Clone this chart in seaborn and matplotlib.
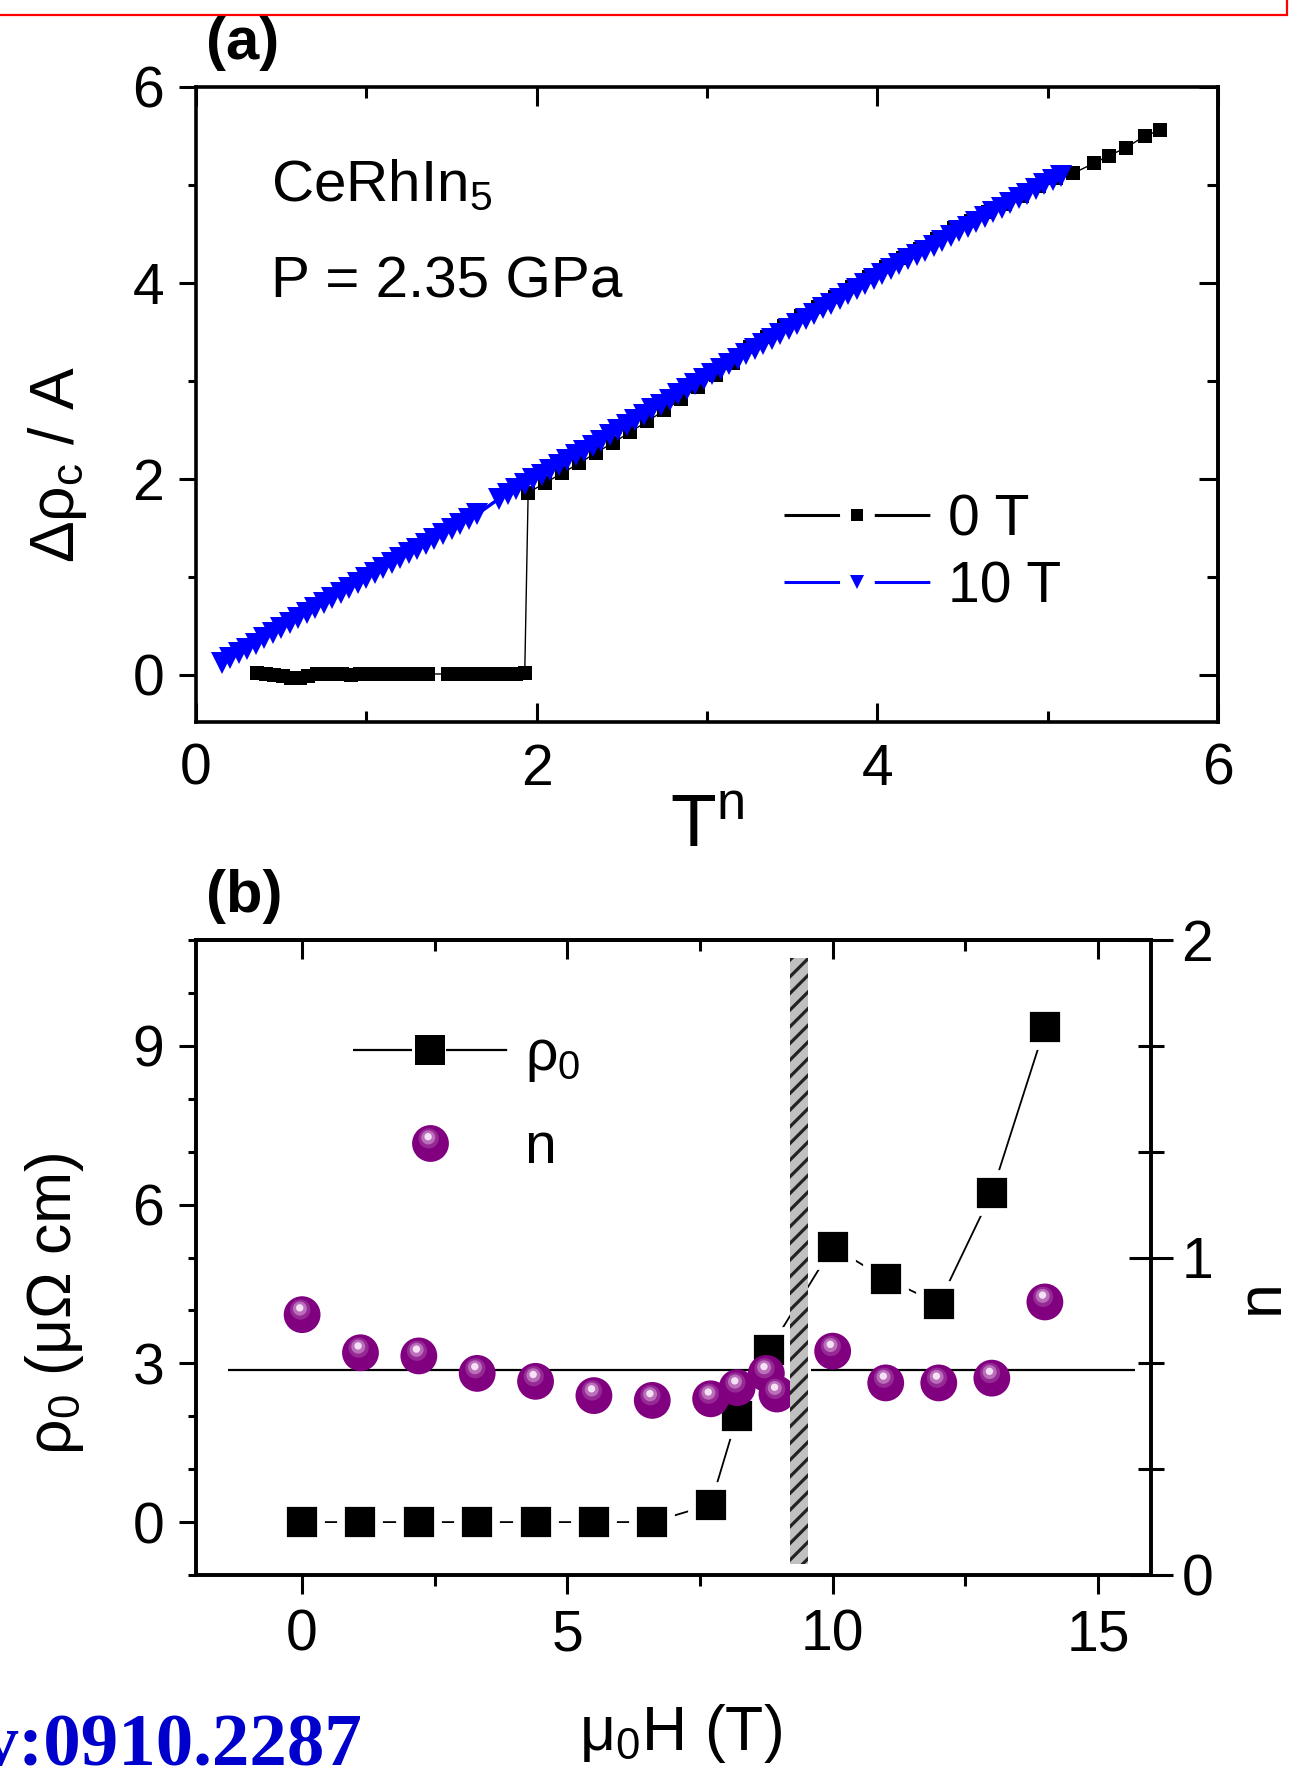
import numpy as np
import matplotlib
matplotlib.use("Agg")
import matplotlib.pyplot as plt
import seaborn as sns
from matplotlib.lines import Line2D
from matplotlib.path import Path
from matplotlib.markers import MarkerStyle
from matplotlib.patches import Rectangle
from matplotlib.ticker import MultipleLocator

# ---------------- panel (a): resistivity vs T^n ----------------
# 0 T: superconducting plateau, then normal-state branch
tn_0T_low = [0.36, 0.41, 0.46, 0.51, 0.56, 0.61, 0.66, 0.71, 0.76, 0.81, 0.86,
             0.91, 0.96, 1.01, 1.06, 1.11, 1.16, 1.21, 1.26, 1.31, 1.36,
             1.48, 1.53, 1.58, 1.63, 1.68, 1.73, 1.78, 1.83, 1.88, 1.93]
drho_0T_low = [0.02, 0.01, 0.00, -0.01, -0.03, -0.03, -0.01, 0.01, 0.01, 0.01, 0.01,
               0.00, 0.01, 0.01, 0.01, 0.01, 0.01, 0.01, 0.01, 0.01, 0.01,
               0.01, 0.01, 0.01, 0.01, 0.01, 0.01, 0.01, 0.01, 0.01, 0.02]
tn_0T_high = [1.95, 2.05, 2.15, 2.25, 2.35, 2.45, 2.55, 2.65, 2.75, 2.85,
              2.95, 3.05, 3.15, 3.25, 3.35, 3.45, 3.55, 3.65, 3.75, 3.85,
              3.95, 4.05, 4.15, 4.25, 4.35, 4.45, 4.55, 4.65, 4.75, 4.85,
              4.95, 5.05, 5.15, 5.27, 5.36, 5.46, 5.57, 5.66]
drho_0T_high = [1.86, 1.96, 2.06, 2.16, 2.27, 2.37, 2.48, 2.59, 2.70, 2.82,
                2.94, 3.06, 3.18, 3.35, 3.45, 3.56, 3.66, 3.76, 3.86, 3.96,
                4.06, 4.16, 4.26, 4.35, 4.45, 4.56, 4.63, 4.72, 4.81, 4.89,
                4.99, 5.07, 5.12, 5.22, 5.30, 5.38, 5.50, 5.56]

# 10 T
tn_10T = [0.15, 0.20, 0.25, 0.30, 0.35, 0.40, 0.45, 0.50, 0.55, 0.60,
          0.65, 0.70, 0.75, 0.80, 0.85, 0.90, 0.95, 1.00, 1.05, 1.10,
          1.15, 1.20, 1.25, 1.30, 1.35, 1.40, 1.45, 1.50, 1.55, 1.60,
          1.65,
          1.78, 1.83, 1.88, 1.93, 1.98, 2.03, 2.08, 2.13, 2.18, 2.23,
          2.28, 2.33, 2.38, 2.43, 2.48, 2.53, 2.58, 2.63, 2.68, 2.73,
          2.78, 2.83, 2.88, 2.93, 2.98, 3.03, 3.08, 3.13, 3.18, 3.23,
          3.28, 3.33, 3.38, 3.43, 3.48, 3.53, 3.58, 3.63, 3.68, 3.73,
          3.78, 3.83, 3.88, 3.93, 3.98, 4.03, 4.08, 4.13, 4.18, 4.23,
          4.28, 4.33, 4.38, 4.43, 4.48, 4.53, 4.58, 4.63, 4.68, 4.73,
          4.78, 4.83, 4.88, 4.93, 4.98, 5.03, 5.08]
drho_10T = [0.12, 0.17, 0.22, 0.27, 0.32, 0.375, 0.43, 0.48, 0.53, 0.58,
            0.63, 0.68, 0.73, 0.785, 0.84, 0.89, 0.94, 0.99, 1.04, 1.09,
            1.14, 1.19, 1.24, 1.29, 1.34, 1.39, 1.44, 1.49, 1.54, 1.59,
            1.64,
            1.80, 1.85, 1.90, 1.95, 2.00, 2.045, 2.09, 2.14, 2.19, 2.24,
            2.29, 2.34, 2.39, 2.445, 2.50, 2.55, 2.60, 2.655, 2.71, 2.76,
            2.81, 2.865, 2.92, 2.97, 3.02, 3.07, 3.12, 3.17, 3.22, 3.275,
            3.33, 3.38, 3.43, 3.48, 3.53, 3.58, 3.63, 3.685, 3.74, 3.79,
            3.84, 3.89, 3.94, 3.99, 4.04, 4.09, 4.14, 4.19, 4.24, 4.285,
            4.33, 4.38, 4.43, 4.48, 4.53, 4.575, 4.62, 4.67, 4.72, 4.77,
            4.82, 4.865, 4.91, 4.96, 5.01, 5.05, 5.09]

# ---------------- panel (b): rho_0 and n vs field ----------------
field_rho = [0, 1.1, 2.2, 3.3, 4.4, 5.5, 6.6, 7.7, 8.2, 8.8, 10, 11, 12, 13, 14]
rho0 = [0, 0, 0, 0, 0, 0, 0, 0.33, 2.0, 3.25, 5.2, 4.6, 4.13, 6.22, 9.35]

field_n = [0, 1.1, 2.2, 3.3, 4.4, 5.5, 6.6, 7.7, 8.2, 8.75, 8.95, 10, 11, 12, 13, 14]
n_exp = [0.82, 0.70, 0.69, 0.635, 0.61, 0.565, 0.55, 0.555, 0.59, 0.635, 0.57,
         0.705, 0.605, 0.605, 0.62, 0.86]

n_guide = 0.645
guide_from = [-1.4, 9.6]
guide_to = [8.9, 15.7]
hc_band = (9.19, 9.53)

# ---------------- style ----------------
sns.set_theme(style="ticks")
plt.rcParams.update({
    "font.family": ["Liberation Sans", "DejaVu Sans"],
    "mathtext.fontset": "custom",
    "mathtext.rm": "Liberation Sans",
    "mathtext.it": "Liberation Sans:italic",
    "mathtext.bf": "Liberation Sans:bold",
    "axes.linewidth": 2.6,
    "axes.edgecolor": "black",
    "axes.labelcolor": "black",
    "text.color": "black",
    "xtick.color": "black",
    "ytick.color": "black",
    "hatch.linewidth": 2.3,
    "hatch.color": "#222222",
})

TICK_FS = 41
LABEL_FS = 45
W, H = 1304, 1768

fig = plt.figure(figsize=(W / 100, H / 100), dpi=100)
fig.patch.set_facecolor("white")


def fig_xy(x, y):
    return x / W, 1 - y / H


def tick_setup(ax, axis, direction, major=14, minor=8):
    ax.tick_params(axis=axis, which="major", direction=direction, length=major,
                   width=2.2, labelsize=TICK_FS)
    ax.tick_params(axis=axis, which="minor", direction=direction, length=minor,
                   width=2.2)


# ================= panel (a) =================
axA = fig.add_axes([196 / W, 1 - 722 / H, 1022 / W, 635 / H])

tn_0T = tn_0T_low + tn_0T_high
drho_0T = drho_0T_low + drho_0T_high

sns.lineplot(x=tn_0T, y=drho_0T, ax=axA, sort=False, estimator=None,
             color="black", lw=1.0, marker="s", markersize=10.5,
             markeredgewidth=0, legend=False, zorder=2)
sns.lineplot(x=tn_10T, y=drho_10T, ax=axA, sort=False, estimator=None,
             color="#0000ff", lw=2.5, marker="v", markersize=16,
             markeredgewidth=0, legend=False, zorder=3)

axA.set_xlim(0, 6)
axA.set_ylim(-0.48, 6)
for axis in (axA.xaxis, axA.yaxis):
    axis.set_major_locator(MultipleLocator(2))
    axis.set_minor_locator(MultipleLocator(1))
tick_setup(axA, "x", "in")
axA.tick_params(axis="x", which="both", top=True, bottom=True, pad=15)
tick_setup(axA, "y", "out", major=12, minor=6)
axA.tick_params(axis="y", which="both", left=True, right=False, pad=11)

secA = axA.secondary_yaxis("right")
secA.yaxis.set_major_locator(MultipleLocator(2))
secA.yaxis.set_minor_locator(MultipleLocator(1))
tick_setup(secA, "y", "in")
secA.tick_params(axis="y", which="both", labelright=False)
secA.spines["right"].set_linewidth(2.6)

axA.set_xlabel("T$^{\\mathrm{n}}$", fontsize=54)
axA.xaxis.set_label_coords(0.5, -0.112)
axA.set_ylabel("Δρ$_{\\mathrm{c}}$ / A", fontsize=LABEL_FS)
axA.yaxis.set_label_coords(-0.105, 0.406)

axA.text(*fig_xy(271, 201), "CeRhIn$_5$", transform=fig.transFigure,
         fontsize=42, va="baseline", ha="left")
axA.text(*fig_xy(271, 297), "P = 2.35 GPa", transform=fig.transFigure,
         fontsize=42, va="baseline", ha="left")

lw_leg = 2.2
hA0 = Line2D([], [], color="black", lw=lw_leg,
             ls=(0, (40 / lw_leg, 25 / lw_leg, 40 / lw_leg, 200)),
             marker="s", markersize=8.5, markeredgewidth=0)
hA1 = Line2D([], [], color="#0000ff", lw=lw_leg,
             ls=(0, (40 / lw_leg, 25 / lw_leg, 40 / lw_leg, 200)),
             marker="v", markersize=10, markeredgewidth=0)
axA.legend([hA0, hA1], ["0 T", "10 T"], loc="center left",
           bbox_to_anchor=(0.575, 0.265), frameon=False, fontsize=TICK_FS,
           handlelength=2.59, handletextpad=0.3, labelspacing=0.23,
           borderpad=0, borderaxespad=0, numpoints=1)

# ================= panel (b) =================
axB = fig.add_axes([196 / W, 1 - 1575 / H, 955 / W, 635 / H])
axN = axB.twinx()

sns.lineplot(x=field_rho, y=rho0, ax=axB, sort=False, estimator=None,
             color="black", lw=1.3, marker="s", markersize=28,
             markerfacecolor="black", markeredgecolor="white",
             markeredgewidth=5.6, legend=False, zorder=3)


def sphere_part(cx, cy, r):
    circ = Path.unit_circle()
    verts = np.vstack([[[-1.0, -1.0], [1.0, 1.0]], circ.vertices * r + [cx, cy]])
    codes = [Path.MOVETO, Path.MOVETO] + list(circ.codes)
    return MarkerStyle(Path(verts, codes))


SPH = 26.5
sphere_layers = [
    ("o", "#800080"),
    (sphere_part(-0.10, 0.28, 0.55), "#952a95"),
    (sphere_part(-0.12, 0.33, 0.38), "#bb6fbb"),
    (sphere_part(-0.13, 0.37, 0.20), "#f4e2f4"),
]
for mk, col in sphere_layers:
    sns.scatterplot(x=field_n, y=n_exp, ax=axN, marker=mk, s=SPH ** 2,
                    color=col, edgecolor="none", linewidth=0, legend=False,
                    zorder=3)

axN.hlines([n_guide] * len(guide_from), guide_from, guide_to,
           color="black", lw=1.6, zorder=2)
axN.axvspan(*hc_band, ymin=0.0175, ymax=0.972, facecolor="#c0c0c0",
            edgecolor="#222222", hatch="//", lw=0, zorder=4)

axB.set_xlim(-2, 16)
axB.set_ylim(-1, 11)
axN.set_ylim(0, 2)

axB.xaxis.set_major_locator(MultipleLocator(5))
axB.xaxis.set_minor_locator(MultipleLocator(2.5))
axB.yaxis.set_major_locator(MultipleLocator(3))
axB.yaxis.set_minor_locator(MultipleLocator(1))
axN.yaxis.set_major_locator(MultipleLocator(1))
axN.yaxis.set_minor_locator(MultipleLocator(1 / 3))

tick_setup(axB, "x", "out")
axB.tick_params(axis="x", which="both", bottom=True, top=False, pad=10)
tick_setup(axB, "y", "out", major=12, minor=6)
axB.tick_params(axis="y", which="both", left=True, right=False, pad=11)

secB = axB.secondary_xaxis("top")
secB.xaxis.set_major_locator(MultipleLocator(5))
secB.xaxis.set_minor_locator(MultipleLocator(2.5))
tick_setup(secB, "x", "in")
secB.tick_params(axis="x", which="both", labeltop=False)
secB.spines["top"].set_linewidth(2.6)

tick_setup(axN, "y", "inout", major=32, minor=19)
axN.tick_params(axis="y", which="both", right=True, left=False, pad=6)

axB.set_xlabel("μ$_0$H (T)", fontsize=LABEL_FS)
axB.xaxis.set_label_coords(0.507, -0.2)
axB.set_ylabel("ρ$_0$ (μΩ cm)", fontsize=LABEL_FS)
axB.yaxis.set_label_coords(-0.115, 0.428)
axN.set_ylabel("n", fontsize=LABEL_FS, rotation=90)
axN.yaxis.set_label_coords(1.085, 0.438)

lw_leg_b = 1.6
hB0 = Line2D([], [], color="black", lw=lw_leg_b,
             ls=(0, (42.5 / lw_leg_b, 24.5 / lw_leg_b, 44 / lw_leg_b, 200)),
             marker="s", markersize=21, markeredgewidth=0)
hB1 = tuple(Line2D([], [], ls="none", marker=mk, markersize=SPH,
                   markerfacecolor=col, markeredgewidth=0)
            for mk, col in sphere_layers)
axB.legend([hB0, hB1], ["ρ$_0$", "n"], loc="center left",
           bbox_to_anchor=(0.164, 0.746), frameon=False, fontsize=TICK_FS,
           handlelength=2.72, handletextpad=0.3, labelspacing=0.64,
           borderpad=0, borderaxespad=0, numpoints=1)

# ---------------- panel labels, header box, reference ----------------
fig.text(*fig_xy(206, 59), "(a)", fontsize=43, fontweight="bold",
         va="baseline", ha="left")
fig.text(*fig_xy(206, 912), "(b)", fontsize=43, fontweight="bold",
         va="baseline", ha="left")

fig.add_artist(Rectangle((-0.02, 1 - 15 / H), 1287 / W + 0.02, 0.05,
                         transform=fig.transFigure, fill=False,
                         edgecolor="#ff0000", lw=1.6, clip_on=False))

fig.text(*fig_xy(363, 1765), "arXiv:0910.2287", fontsize=54,
         fontweight="bold", family=["Liberation Serif", "DejaVu Serif"],
         color="#0000cc", ha="right", va="baseline")

fig.savefig("out.png", dpi=100, facecolor="white")
